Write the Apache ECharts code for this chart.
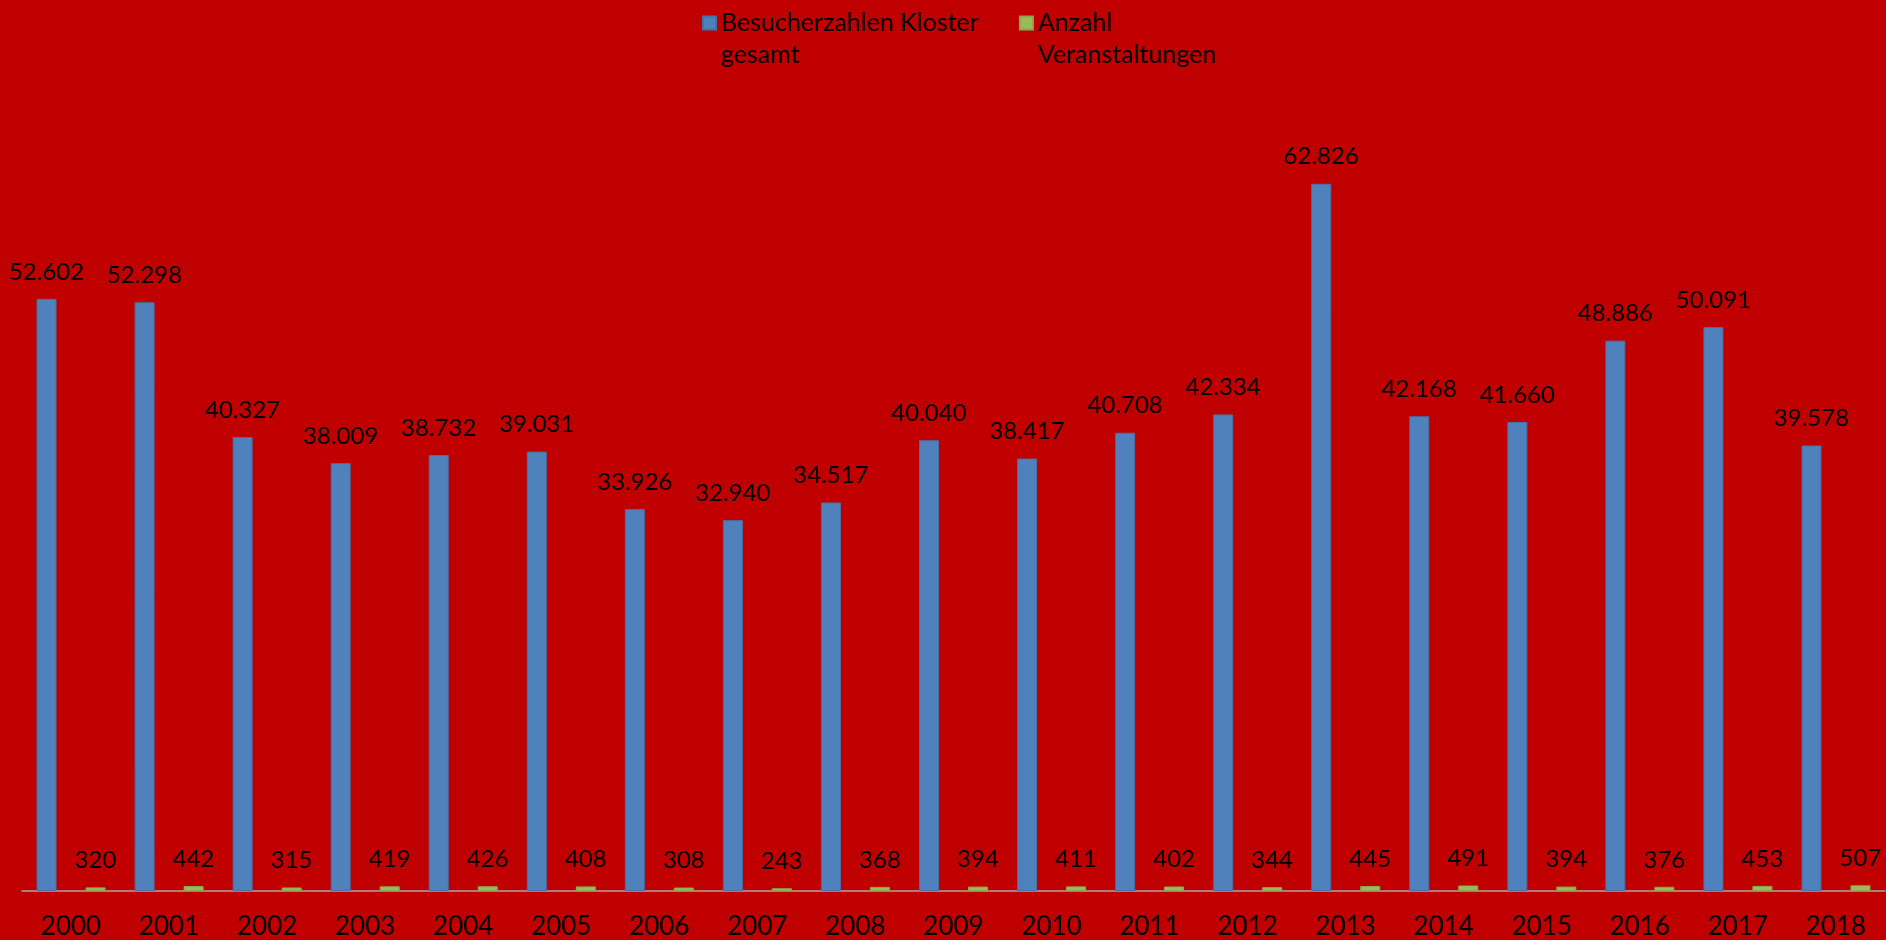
<!DOCTYPE html>
<html>
<head>
<meta charset="utf-8">
<script src="https://cdn.jsdelivr.net/npm/echarts@6/dist/echarts.min.js"></script>
<style>
  html, body { margin: 0; padding: 0; background: #c00000; }
  #chart { width: 1886px; height: 940px; }
</style>
</head>
<body>
<div id="chart"></div>
<script>
// Besucherzahlen Kloster vs. Anzahl Veranstaltungen, 2000–2018 (gemeinsame Y-Achse, ausgeblendet)
const years = ['2000', '2001', '2002', '2003', '2004', '2005', '2006', '2007', '2008', '2009',
  '2010', '2011', '2012', '2013', '2014', '2015', '2016', '2017', '2018']
const visitors = [52602, 52298, 40327, 38009, 38732, 39031, 33926, 32940, 34517, 40040,
  38417, 40708, 42334, 62826, 42168, 41660, 48886, 50091, 39578]
const events = [320, 442, 315, 419, 426, 408, 308, 243, 368, 394,
  411, 402, 344, 445, 491, 394, 376, 453, 507]

// deutsches Tausendertrennzeichen
const fmt = (v) => String(v).replace(/\B(?=(\d{3})+(?!\d))/g, '.')

const FONT = 'Lato, "Open Sans", sans-serif'
const labelCfg = {
  show: true, position: 'top', distance: 15,
  color: '#000', fontFamily: FONT, fontSize: 24,
  formatter: (p) => fmt(p.value),
}

const chart = echarts.init(document.getElementById('chart'))
chart.setOption({
  backgroundColor: '#c00000',
  animation: false,
  legend: {
    left: 697, top: -30, itemWidth: 13, itemHeight: 13, itemGap: 40,
    icon: 'rect',
    // Leerzeile davor, damit das Symbol auf Höhe der ersten Textzeile sitzt
    formatter: (name) => '\u00a0\n' + name,
    textStyle: { color: '#000', fontFamily: FONT, fontSize: 25, lineHeight: 32 },
    data: [
      { name: 'Besucherzahlen Kloster\ngesamt' },
      { name: 'Anzahl\nVeranstaltungen' },
    ],
  },
  grid: { left: 22, right: 1, top: 103, bottom: 48 },
  xAxis: {
    type: 'category', data: years,
    axisLine: { lineStyle: { color: '#a6a6a6', width: 1.5 } },
    axisTick: { show: false },
    axisLabel: { color: '#000', fontFamily: FONT, fontSize: 26, margin: 23 },
  },
  yAxis: { type: 'value', min: 0, max: 70000, show: false, splitLine: { show: false } },
  series: [
    {
      name: 'Besucherzahlen Kloster\ngesamt', type: 'bar', data: visitors,
      barWidth: 20, barGap: '145%',
      itemStyle: { color: '#4f81bd', borderColor: '#4572a7', borderWidth: 1 },
      label: labelCfg,
    },
    {
      name: 'Anzahl\nVeranstaltungen', type: 'bar', data: events,
      barWidth: 20,
      itemStyle: { color: '#9bbb59', borderColor: '#8aa84e', borderWidth: 1 },
      label: labelCfg,
    },
  ],
})
</script>
</body>
</html>
